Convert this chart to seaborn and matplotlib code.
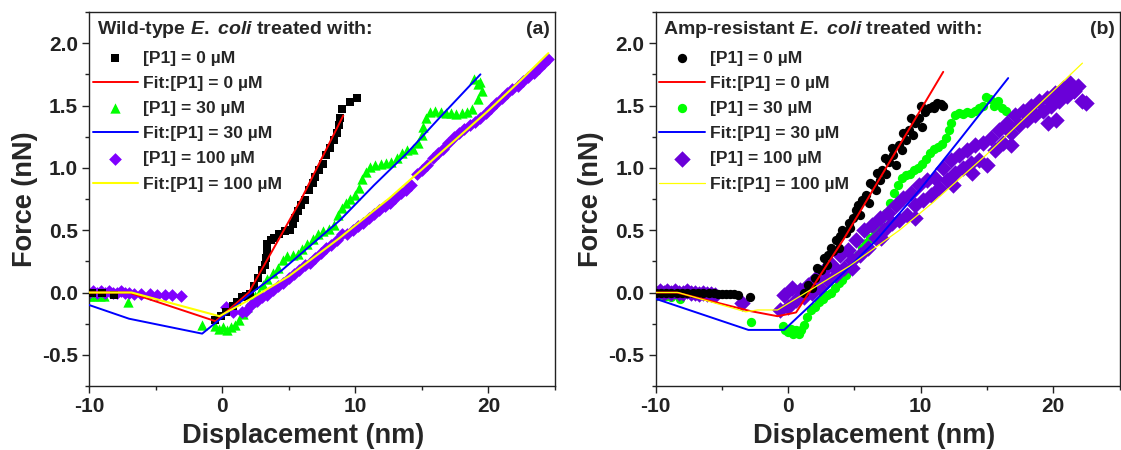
#!/usr/bin/env python3
import pandas as pd
import matplotlib
matplotlib.use("Agg")
import matplotlib.pyplot as plt
from matplotlib.ticker import MultipleLocator
import seaborn as sns

# ---- panel (a): wild-type E. coli ----
a_x0 = [-9.8, -9.0, -8.1, -0.5, -0.1, 0.3, 0.8, 1.1, 1.5, 1.8, 2.1, 2.4, 2.7, 3.0, 3.2, 3.3, 3.35, 3.4,
        3.7, 3.9, 4.3, 4.7, 5.1, 5.3, 5.5, 5.7, 5.9, 6.2, 6.5, 6.8, 7.0, 7.3, 7.6, 7.8, 8.1, 8.4, 8.6,
        8.75, 8.85, 9.0, 9.6, 10.1]
a_y0 = [0.0, 0.0, -0.02, -0.22, -0.19, -0.16, -0.11, -0.08, -0.04, -0.03, -0.01, 0.05, 0.12, 0.18, 0.22,
        0.28, 0.34, 0.39, 0.42, 0.44, 0.47, 0.49, 0.50, 0.55, 0.60, 0.65, 0.70, 0.74, 0.82, 0.88, 0.93,
        0.98, 1.03, 1.10, 1.16, 1.22, 1.28, 1.34, 1.40, 1.47, 1.53, 1.56]
a_fx0 = [-10, -7, -0.5, 2.0, 5.9, 9.1]
a_fy0 = [0, 0, -0.23, 0.0, 0.74, 1.42]

a_x30 = [-9.9, -9.6, -9.2, -8.9, -7.1, -1.5, -0.5, -0.2, 0.1, 0.4, 0.7, 1.0, 1.3, 1.6, 1.9, 2.2, 2.5,
         2.8, 3.1, 3.4, 3.8, 4.2, 4.6, 4.9, 5.3, 5.7, 6.0, 6.4, 6.8, 7.2, 7.6, 8.0, 8.4, 8.7, 9.0, 9.3,
         9.6, 10.0, 10.3, 10.5, 10.8, 11.1, 11.5, 11.9, 12.3, 12.7, 13.1, 13.5, 13.9, 14.3, 14.7, 15.0,
         15.1, 15.3, 15.6, 16.0, 16.4, 16.8, 17.2, 17.6, 18.0, 18.4, 18.8, 19.2, 19.5, 19.2, 18.9, 19.4]
a_y30 = [-0.03, -0.03, -0.03, -0.03, -0.08, -0.26, -0.27, -0.29, -0.28, -0.30, -0.28, -0.26, -0.22,
         -0.17, -0.12, -0.08, -0.03, 0.0, 0.06, 0.11, 0.16, 0.20, 0.26, 0.29, 0.30, 0.31, 0.35, 0.39,
         0.43, 0.47, 0.49, 0.51, 0.54, 0.62, 0.68, 0.72, 0.75, 0.78, 0.84, 0.91, 0.97, 1.01, 1.02, 1.03,
         1.04, 1.05, 1.08, 1.12, 1.14, 1.15, 1.20, 1.26, 1.33, 1.40, 1.45, 1.46, 1.45, 1.44, 1.44, 1.43,
         1.44, 1.45, 1.47, 1.55, 1.62, 1.67, 1.71, 1.69]
a_fx30 = [-10, -7, -1.5, 0, 2, 4.5, 7.1, 8.85, 11.4, 13.9, 16.4, 19.4]
a_fy30 = [-0.10, -0.21, -0.33, -0.20, -0.02, 0.18, 0.42, 0.58, 0.86, 1.12, 1.41, 1.75]

a_x100 = [-10.0, -9.7, -9.4, -9.1, -8.8, -8.5, -8.2, -7.9, -7.6, -7.3, -7.0, -6.6, -6.1, -5.45, -4.9,
          -4.3, -3.8, -3.07, 0.26, 0.8, 1.5, 1.8, 2.2, 2.6, 3.0, 3.4, 3.8, 4.2, 4.6, 5.0, 5.4, 5.8, 6.2,
          6.6, 7.0, 7.4, 7.8, 8.2, 8.6, 9.0, 9.4, 9.8, 10.2, 10.6, 11.0, 11.4, 11.8, 12.2, 12.6, 13.0,
          13.4, 13.8, 14.2, 14.6, 15.0, 15.4, 15.8, 16.2, 16.6, 17.0, 17.4, 17.8, 18.2, 18.6, 19.0, 19.4,
          19.8, 20.2, 20.6, 21.0, 21.4, 21.8, 22.2, 22.6, 23.0, 23.4, 23.8, 24.2, 24.5]
a_y100 = [0.0, 0.01, 0.0, 0.01, 0.0, 0.01, 0.0, 0.0, 0.01, 0.0, 0.0, -0.01, -0.01, -0.01, -0.02,
          -0.02, -0.02, -0.03, -0.12, -0.16, -0.16, -0.15, -0.10, -0.07, -0.04, -0.02, 0.02, 0.05, 0.08,
          0.12, 0.15, 0.18, 0.22, 0.24, 0.28, 0.32, 0.36, 0.38, 0.42, 0.47, 0.47, 0.50, 0.53, 0.56, 0.60,
          0.63, 0.66, 0.69, 0.72, 0.76, 0.80, 0.82, 0.86, 0.95, 0.98, 1.02, 1.08, 1.12, 1.15, 1.20, 1.25,
          1.28, 1.31, 1.34, 1.37, 1.40, 1.44, 1.48, 1.52, 1.56, 1.60, 1.63, 1.66, 1.70, 1.73, 1.76, 1.80,
          1.84, 1.87]
a_fx100 = [-10, -6.8, -0.2, 2, 5, 8.85, 12.6, 16.4, 20, 22.4, 24.5]
a_fy100 = [0, 0, -0.19, -0.06, 0.13, 0.44, 0.76, 1.12, 1.46, 1.70, 1.92]

# ---- panel (b): amp-resistant E. coli ----
b_x0 = [-10, -9.6, -9.2, -8.8, -8.4, -8.0, -7.6, -7.2, -6.8, -6.4, -6.0, -5.6, -5.3, -5.0, -4.7, -4.4,
        -4.1, -3.8, -2.85,
        1.2, 1.5, 1.8, 2.0, 2.2, 2.5, 2.7, 3.0, 3.2, 3.4, 3.6, 3.9, 4.1, 4.4, 4.6, 4.9, 5.1, 5.4, 5.6,
        5.9, 6.1, 6.4, 6.6, 6.9, 7.1, 7.4, 7.6, 7.9, 8.1, 8.4, 8.6, 8.9, 9.1, 9.4, 9.6, 9.9, 10.1, 10.3,
        10.6, 10.9, 11.2, 11.5, 11.7,
        2.9, 3.8, 4.7, 5.3, 6.2, 6.7, 7.3, 7.8, 8.7, 9.3, 10.0, 11.0]
b_y0 = [0, 0, 0, 0, 0, 0, 0, 0, 0, 0, 0, -0.005, -0.01, -0.01, -0.01, -0.01, -0.01, -0.02, -0.04,
        0.0, 0.06, 0.04, 0.12, 0.2, 0.18, 0.28, 0.3, 0.36, 0.33, 0.42, 0.45, 0.5, 0.48, 0.56, 0.6, 0.66,
        0.62, 0.74, 0.78, 0.72, 0.86, 0.82, 0.9, 0.98, 0.95, 1.05, 1.1, 1.02, 1.18, 1.14, 1.22, 1.3, 1.26,
        1.36, 1.4, 1.33, 1.45, 1.48, 1.5, 1.52, 1.51, 1.5,
        0.22, 0.36, 0.52, 0.7, 0.88, 0.96, 1.08, 1.16, 1.28, 1.4, 1.5, 1.48]
b_fx0 = [-10, -8.4, -2.8, -0.8, 0.6, 2.0, 4.2, 11.7]
b_fy0 = [0, 0, -0.15, -0.19, -0.16, 0.07, 0.43, 1.77]

b_x30 = [-10, -9.6, -9.2, -8.8, -8.15, -2.8, -0.4, -0.2, 0.0, 0.2, 0.4, 0.6, 0.8, 1.0, 1.2,
         1.4, 1.7, 2.0, 2.3, 2.6, 2.9, 3.2, 3.5, 3.8, 4.1, 4.4, 4.7, 5.0, 5.3, 5.6, 5.9, 6.2, 6.5, 6.8,
         7.1, 7.4, 7.7, 8.0, 8.3, 8.6, 8.9, 9.2, 9.5, 9.8, 10.1, 10.4, 10.7, 11.0, 11.3, 11.6, 11.9,
         12.1, 12.3, 12.6, 12.9, 13.2, 13.5, 13.8, 14.1, 14.4, 14.7, 14.9, 15.2, 15.5, 15.8, 16.1, 16.4]
b_y30 = [-0.03, -0.03, -0.03, -0.04, -0.05, -0.235, -0.27, -0.30, -0.32, -0.29, -0.33, -0.30, -0.33,
         -0.30, -0.26,
         -0.2, -0.14, -0.12, -0.08, -0.05, -0.02, 0.0, 0.04, 0.08, 0.1, 0.14, 0.2, 0.27, 0.3, 0.36,
         0.4, 0.44, 0.5, 0.55, 0.6, 0.64, 0.72, 0.8, 0.86, 0.92, 0.94, 0.95, 0.98, 1.0, 1.03, 1.07, 1.12,
         1.15, 1.17, 1.19, 1.24, 1.3, 1.36, 1.42, 1.44, 1.43, 1.45, 1.44, 1.46, 1.48, 1.5, 1.57, 1.55,
         1.5, 1.54, 1.48, 1.46]
b_fx30 = [-10, -3, -0.3, 1.8, 4.2, 6.65, 9.9, 12.9, 16.6]
b_fy30 = [-0.05, -0.30, -0.30, -0.09, 0.16, 0.42, 0.82, 1.22, 1.72]

b_x100 = [-10, -9.7, -9.4, -9.1, -8.8, -8.5, -8.2, -7.9, -7.6, -7.3, -7.0, -6.7, -6.4, -6.1, -5.8, -5.5,
          -3.45,
          -0.6, -0.3, 0.0, 0.3, 0.6, 0.9, 1.2, 1.5, 1.8, 2.1, 2.4, 2.7, 3.0, 3.3, 3.6, 3.9, 4.2, 4.5, 4.8,
          5.1, 5.4, 5.7, 6.0, 6.3, 6.6, 6.9, 7.2, 7.5, 7.8, 8.1, 8.4, 8.7, 9.0, 9.3, 9.6, 9.9, 10.2,
          10.5, 10.8, 11.1, 11.4, 11.7, 12.0, 12.3, 12.6, 12.9, 13.2, 13.5, 13.8, 14.1, 14.4, 14.7, 15.0,
          15.3, 15.6, 15.9, 16.2, 16.5, 16.8, 17.1, 17.4, 17.7, 18.0, 18.3, 18.6, 18.9, 19.2, 19.5, 19.8,
          20.1, 20.4, 20.7, 21.0, 21.3, 21.6, 21.9, 22.2, 22.5,
          19.6, 20.2, 16.8, 13.9, 12.4, 9.6, 7.0, 4.8]
b_y100 = [0, 0.01, 0, 0.01, 0, 0.01, 0, 0, 0.01, 0, 0, -0.01, 0, -0.01, -0.01, -0.02,
          -0.085,
          -0.14, -0.02, -0.12, 0.04, -0.06, 0.02, -0.04, 0.06, 0.0, 0.12, 0.04, 0.18, 0.1, 0.22, 0.14,
          0.3, 0.2, 0.34, 0.26, 0.42, 0.3, 0.5, 0.36, 0.54, 0.44, 0.6, 0.5, 0.64, 0.56, 0.7, 0.58, 0.76,
          0.62, 0.8, 0.7, 0.86, 0.74, 0.9, 0.78, 0.92, 0.84, 1.0, 0.9, 1.06, 0.96, 1.1, 1.0, 1.14, 1.04,
          1.18, 1.06, 1.2, 1.02, 1.24, 1.14, 1.3, 1.2, 1.36, 1.28, 1.42, 1.34, 1.46, 1.38, 1.5, 1.42,
          1.54, 1.46, 1.56, 1.5, 1.6, 1.54, 1.64, 1.58, 1.68, 1.62, 1.66, 1.54, 1.52,
          1.36, 1.38, 1.18, 0.96, 0.86, 0.6, 0.44, 0.2]
b_fx100 = [-10, -8.3, -3.2, -2.3, -0.8, 4.6, 8.4, 10.9, 14.9, 22.2]
b_fy100 = [0, 0, -0.155, -0.14, -0.14, 0.21, 0.5, 0.72, 1.1, 1.84]

labels_pts = ["[P1] = 0 µM", "[P1] = 30 µM", "[P1] = 100 µM"]
labels_fit = ["Fit:[P1] = 0 µM", "Fit:[P1] = 30 µM", "Fit:[P1] = 100 µM"]
titles = [r"Wild-type $\mathit{E.}$ $\mathit{coli}$ treated with:",
          r"Amp-resistant $\mathit{E.}$ $\mathit{coli}$ treated with:"]

sns.set_style("ticks")
plt.rcParams["font.family"] = ["Liberation Sans", "DejaVu Sans"]
plt.rcParams["font.weight"] = "bold"
plt.rcParams["axes.labelweight"] = "bold"
plt.rcParams["axes.unicode_minus"] = False
plt.rcParams["mathtext.fontset"] = "custom"
plt.rcParams["mathtext.rm"] = "Liberation Sans:bold"
plt.rcParams["mathtext.it"] = "Liberation Sans:italic:bold"
plt.rcParams["mathtext.bf"] = "Liberation Sans:bold"


def draw_panel(ax, pts, fits, markers, sizes, purple, yellow_lw, title, tag, xlab_x):
    colors = ["black", "#00ff00", purple]
    fit_colors = ["#ff0000", "#0000ff", "#ffff00"]
    fit_lw = [1.4, 1.4, yellow_lw]
    # draw order: green, purple, black
    for i in [1, 2, 0]:
        x, y = pts[i]
        df = pd.DataFrame({"x": x, "y": y})
        sns.scatterplot(data=df, x="x", y="y", ax=ax, marker=markers[i], s=sizes[i],
                        color=colors[i], linewidth=0, label=labels_pts[i], zorder=2 + (i == 0))
    for i in range(3):
        x, y = fits[i]
        df = pd.DataFrame({"x": x, "y": y})
        sns.lineplot(data=df, x="x", y="y", ax=ax, color=fit_colors[i], lw=fit_lw[i],
                     sort=False, estimator=None, label=labels_fit[i], zorder=4)

    ax.set_xlim(-10, 25)
    ax.set_ylim(-0.75, 2.25)
    ax.set_xticks([-10, 0, 10, 20])
    ax.set_yticks([-0.5, 0.0, 0.5, 1.0, 1.5, 2.0])
    ax.set_yticklabels(["-0.5", "0.0", "0.5", "1.0", "1.5", "2.0"])
    ax.xaxis.set_minor_locator(MultipleLocator(5))
    ax.yaxis.set_minor_locator(MultipleLocator(0.25))
    ax.tick_params(which="major", direction="out", length=5, width=1, pad=3,
                   labelsize=15, colors="#222222")
    ax.tick_params(which="minor", direction="out", length=3, width=1, colors="#222222")
    for sp in ax.spines.values():
        sp.set_visible(True)
        sp.set_linewidth(1.0)
        sp.set_color("#222222")
    ax.set_xlabel("Displacement (nm)", fontsize=19.5, fontweight="bold")
    ax.xaxis.set_label_coords(xlab_x, -0.098)
    ax.set_ylabel("Force (nN)", fontsize=19.5, fontweight="bold", labelpad=3)

    handles, labs = ax.get_legend_handles_labels()
    # scatter order was green, purple, black -> reorder to black, red, green, blue, purple, yellow
    order = [2, 3, 0, 4, 1, 5]
    leg = ax.legend([handles[k] for k in order], [labs[k] for k in order],
                    loc="upper left", bbox_to_anchor=(0.0, 0.907), frameon=False, fontsize=12.6,
                    handlelength=2.6, handletextpad=0.3, labelspacing=0.57,
                    borderpad=0.2, borderaxespad=0.0)
    for t in leg.get_texts():
        t.set_fontweight("bold")
    ax.text(0.017, 0.941, title, transform=ax.transAxes, ha="left", va="baseline",
            fontsize=14, fontweight="bold")
    ax.text(0.99, 0.975, tag, transform=ax.transAxes, ha="right", va="top",
            fontsize=14, fontweight="bold")


fig = plt.figure(figsize=(11.21, 4.5), dpi=100)
ax_a = fig.add_axes([0.0794, 0.1422, 0.4157, 0.8311])
ax_b = fig.add_axes([0.5848, 0.1422, 0.4139, 0.8311])

draw_panel(ax_a,
           [(a_x0, a_y0), (a_x30, a_y30), (a_x100, a_y100)],
           [(a_fx0, a_fy0), (a_fx30, a_fy30), (a_fx100, a_fy100)],
           ["s", "^", "D"], [32, 55, 42], "#8000ff", 1.5, titles[0], "(a)", 0.459)
draw_panel(ax_b,
           [(b_x0, b_y0), (b_x30, b_y30), (b_x100, b_y100)],
           [(b_fx0, b_fy0), (b_fx30, b_fy30), (b_fx100, b_fy100)],
           ["o", "o", "D"], [45, 45, 70], "#6a00d8", 0.9, titles[1], "(b)", 0.4716)

fig.savefig("out.png", dpi=100)
print("Saved out.png", flush=True)
